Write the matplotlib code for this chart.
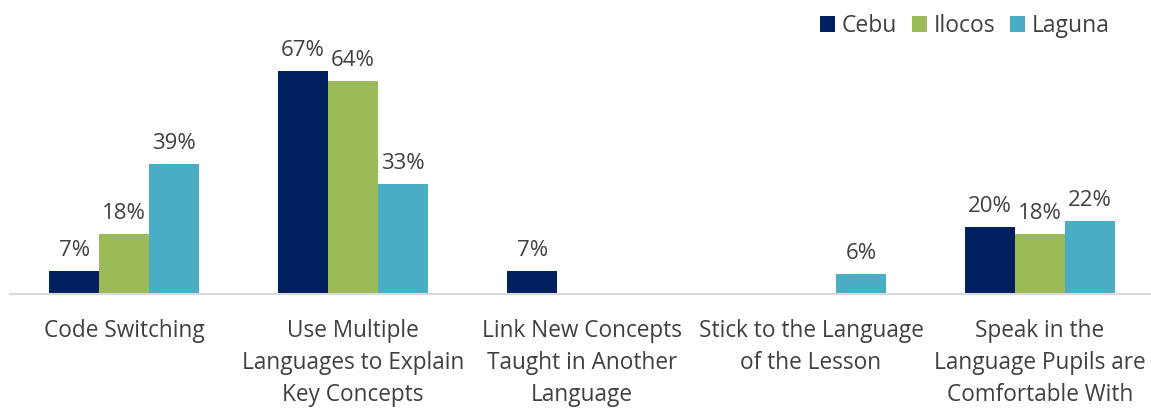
import matplotlib.pyplot as plt
import numpy as np

plt.rcParams["font.family"] = ["Open Sans", "DejaVu Sans"]

categories = [
    "Code Switching",
    "Use Multiple\nLanguages to Explain\nKey Concepts",
    "Link New Concepts\nTaught in Another\nLanguage",
    "Stick to the Language\nof the Lesson",
    "Speak in the\nLanguage Pupils are\nComfortable With",
]
series = ["Cebu", "Ilocos", "Laguna"]
cebu = [7, 67, 7, 0, 20]
ilocos = [18, 64, 0, 0, 18]
laguna = [39, 33, 0, 6, 22]
colors = ["#002060", "#9BBB59", "#4BACC6"]

text_color = "#404040"
width = 0.218

fig = plt.figure(figsize=(11.51, 4.08), dpi=100)
ax = fig.add_axes([9.5 / 1151, 1 - 294 / 408, 1145 / 1151, 294 / 408])

x = np.arange(len(categories))
for i, (name, vals, c) in enumerate(zip(series, [cebu, ilocos, laguna], colors)):
    pos = x + (i - 1) * width
    ax.bar(pos, vals, width=width, color=c, label=name)
    for p, v in zip(pos, vals):
        if v > 0:
            ax.text(p, v + 3.0, f"{v}%", ha="center", va="bottom",
                    fontsize=16, color=text_color)

ax.set_xlim(-0.5, len(categories) - 0.5)
ax.set_ylim(0, 88.3)
ax.set_xticks(x)
ax.set_xticklabels(categories, fontsize=16.3, color=text_color, linespacing=1.44)
ax.tick_params(axis="x", length=0, pad=18)
ax.set_yticks([])
for s in ("top", "right", "left"):
    ax.spines[s].set_visible(False)
ax.spines["bottom"].set_color("#D9D9D9")
ax.spines["bottom"].set_linewidth(1.5)

leg = fig.legend(loc="center right", bbox_to_anchor=(1110 / 1151, 1 - 26 / 408), ncol=3,
                 frameon=False, fontsize=16.5, handlelength=0.65, handleheight=0.65,
                 handletextpad=0.3, columnspacing=0.65, borderaxespad=0, borderpad=0)
for t in leg.get_texts():
    t.set_color(text_color)

fig.savefig("out.png", dpi=100)
